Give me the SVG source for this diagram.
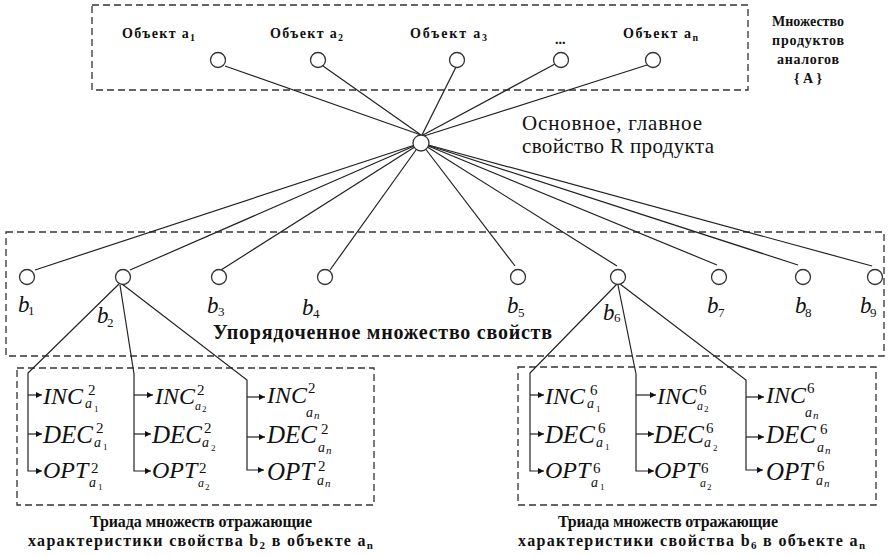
<svg xmlns="http://www.w3.org/2000/svg" width="888" height="557" viewBox="0 0 888 557">
<defs>
<marker id="arr" viewBox="0 0 10 10" refX="10" refY="5" markerWidth="7" markerHeight="6" orient="auto" markerUnits="userSpaceOnUse"><path d="M0,0 L10,5 L0,10 z" fill="#111"/></marker>
</defs>
<style>
.box{fill:none;stroke:#333;stroke-width:1.3;stroke-dasharray:7 4}
.node{fill:#fff;stroke:#333;stroke-width:1.3}
.edge{fill:none;stroke:#222;stroke-width:1.2}
.arr{fill:none;stroke:#222;stroke-width:1.2;marker-end:url(#arr)}
text{font-family:"Liberation Serif","Times New Roman",serif;fill:#111}
.lbl{font-weight:bold;font-size:14px}
.big{font-size:21px}
.bold{font-weight:bold}
.bl{font-style:italic;font-size:23px}
.bs{font-style:normal;font-size:13px}
.m{font-style:italic;font-size:24px}
.sup{font-style:normal;font-size:15px}
.sub{font-size:14px}
.sub2{font-size:12px}
.ss{font-style:normal;font-size:9px}
.ssn{font-style:italic;font-size:11px}
</style>

<g id="boxes">
<rect class="box" x="92" y="5" width="656" height="85"/>
<rect class="box" x="6" y="232" width="878" height="124"/>
<rect class="box" x="17" y="368" width="357" height="137"/>
<rect class="box" x="518" y="367" width="358" height="138"/>
</g>

<g id="connectors">
<path class="edge" d="M225,66 L421,135"/>
<path class="edge" d="M323,66 L421,135"/>
<path class="edge" d="M456,67 L422,135"/>
<path class="edge" d="M555,64 L423,135"/>
<path class="edge" d="M647,65 L424,136"/>
<path class="edge" d="M421,143 L35,270"/>
<path class="edge" d="M421,143 L130,270"/>
<path class="edge" d="M421,143 L221,270"/>
<path class="edge" d="M421,143 L330,270"/>
<path class="edge" d="M421,143 L515,266"/>
<path class="edge" d="M421,143 L617,266"/>
<path class="edge" d="M421,143 L717,265"/>
<path class="edge" d="M421,143 L798,265"/>
<path class="edge" d="M421,143 L872,266"/>
<path class="arr" d="M119,284 L28,373 V471 H42"/>
<path class="arr" d="M28,395 H42"/>
<path class="arr" d="M28,434 H42"/>
<path class="arr" d="M120,285 L134,374 V471 H151"/>
<path class="arr" d="M134,395 H153"/>
<path class="arr" d="M134,434 H151"/>
<path class="arr" d="M122,284 L247,380 V470 H264"/>
<path class="arr" d="M247,397 H265"/>
<path class="arr" d="M247,437 H265"/>
<path class="arr" d="M617,284 L530,373 V471 H544"/>
<path class="arr" d="M530,395 H544"/>
<path class="arr" d="M530,434 H544"/>
<path class="arr" d="M618,285 L636,374 V471 H654"/>
<path class="arr" d="M636,395 H656"/>
<path class="arr" d="M636,434 H654"/>
<path class="arr" d="M620,284 L746,380 V470 H763"/>
<path class="arr" d="M746,397 H764"/>
<path class="arr" d="M746,437 H764"/>
</g>

<g id="obj-a1"><circle class="node" cx="218" cy="60" r="7.5"/><text class="lbl" x="122" y="38" textLength="73">Объект a<tspan dy="3" font-size="10">1</tspan></text></g>
<g id="obj-a2"><circle class="node" cx="318" cy="60" r="7.5"/><text class="lbl" x="270" y="38" textLength="73">Объект a<tspan dy="3" font-size="10">2</tspan></text></g>
<g id="obj-a3"><circle class="node" cx="457" cy="60" r="7.5"/><text class="lbl" x="410" y="38" textLength="77">Объект a<tspan dy="3" font-size="10">3</tspan></text></g>
<g id="obj-dots"><circle class="node" cx="561" cy="60" r="7.5"/><text class="lbl" x="555" y="44">...</text></g>
<g id="obj-an"><circle class="node" cx="653" cy="60" r="7.5"/><text class="lbl" x="623" y="38" textLength="75">Объект a<tspan dy="3" font-size="10">n</tspan></text></g>

<g id="set-A-label">
<text class="lbl" font-size="16" text-anchor="middle" x="808" y="26" textLength="72">Множество</text>
<text class="lbl" font-size="16" text-anchor="middle" x="808" y="45" textLength="72">продуктов</text>
<text class="lbl" font-size="16" text-anchor="middle" x="808" y="64" textLength="62">аналогов</text>
<text class="lbl" font-size="16" text-anchor="middle" x="808" y="83" textLength="28">{A}</text>
</g>

<g id="node-R"><circle class="node" cx="421" cy="143" r="8"/>
<text class="big" x="522" y="130" textLength="180">Основное, главное</text>
<text class="big" x="522" y="153" textLength="192">свойство R продукта</text>
</g>

<g id="node-b1"><circle class="node" cx="27" cy="277" r="7.5"/><text class="bl"><tspan x="18" y="312">b</tspan><tspan class="bs" x="28" y="315">1</tspan></text></g>
<g id="node-b2"><circle class="node" cx="123" cy="277" r="7.5"/><text class="bl"><tspan x="97" y="323">b</tspan><tspan class="bs" x="107" y="327">2</tspan></text></g>
<g id="node-b3"><circle class="node" cx="219" cy="277" r="7.5"/><text class="bl"><tspan x="207" y="313">b</tspan><tspan class="bs" x="218" y="316">3</tspan></text></g>
<g id="node-b4"><circle class="node" cx="325" cy="277" r="7.5"/><text class="bl"><tspan x="302" y="315">b</tspan><tspan class="bs" x="313" y="318">4</tspan></text></g>
<g id="node-b5"><circle class="node" cx="518" cy="277" r="7.5"/><text class="bl"><tspan x="507" y="313">b</tspan><tspan class="bs" x="518" y="317">5</tspan></text></g>
<g id="node-b6"><circle class="node" cx="618" cy="277" r="7.5"/><text class="bl"><tspan x="603" y="320">b</tspan><tspan class="bs" x="614" y="322">6</tspan></text></g>
<g id="node-b7"><circle class="node" cx="719" cy="277" r="7.5"/><text class="bl"><tspan x="707" y="313">b</tspan><tspan class="bs" x="718" y="317">7</tspan></text></g>
<g id="node-b8"><circle class="node" cx="803" cy="277" r="7.5"/><text class="bl"><tspan x="795" y="313">b</tspan><tspan class="bs" x="805" y="317">8</tspan></text></g>
<g id="node-b9"><circle class="node" cx="875" cy="277" r="7.5"/><text class="bl"><tspan x="860" y="313">b</tspan><tspan class="bs" x="870" y="317">9</tspan></text></g>

<g id="ordered-label"><text class="bold" font-size="20" x="213" y="339" textLength="339">Упорядоченное множество свойств</text></g>

<g id="triad-b2">
<text class="m"><tspan x="43" y="404">INC</tspan><tspan class="sup" x="88" y="395">2</tspan><tspan class="sub" x="85" y="408">a</tspan><tspan class="ss" x="94" y="412">1</tspan></text>
<text class="m"><tspan x="43" y="443" font-size="25">DEC</tspan><tspan class="sup" x="96" y="433">2</tspan><tspan class="sub" x="94" y="447">a</tspan><tspan class="ss" x="103" y="450">1</tspan></text>
<text class="m"><tspan x="43" y="478">OPT</tspan><tspan class="sup" x="91" y="473">2</tspan><tspan class="sub" x="89" y="487">a</tspan><tspan class="ss" x="98" y="490">1</tspan></text>
<text class="m"><tspan x="155" y="404">INC</tspan><tspan class="sup" x="197" y="395">2</tspan><tspan class="sub2" x="195" y="410">a</tspan><tspan class="ss" x="202" y="412">2</tspan></text>
<text class="m"><tspan x="152" y="443" font-size="25">DEC</tspan><tspan class="sup" x="204" y="433">2</tspan><tspan class="sub" x="202" y="447">a</tspan><tspan class="ss" x="211" y="451">2</tspan></text>
<text class="m"><tspan x="152" y="478">OPT</tspan><tspan class="sup" x="199" y="473">2</tspan><tspan class="sub2" x="198" y="487">a</tspan><tspan class="ss" x="205" y="490">2</tspan></text>
<text class="m"><tspan x="267" y="403">INC</tspan><tspan class="sup" x="308" y="393">2</tspan><tspan class="sub" x="306" y="417">a</tspan><tspan class="ssn" x="314" y="419">n</tspan></text>
<text class="m"><tspan x="267" y="443" font-size="25">DEC</tspan><tspan class="sup" x="321" y="434">2</tspan><tspan class="sub" x="318" y="452">a</tspan><tspan class="ssn" x="326" y="454">n</tspan></text>
<text class="m"><tspan x="267" y="480" font-size="25">OPT</tspan><tspan class="sup" x="318" y="471">2</tspan><tspan class="sub" x="317" y="485">a</tspan><tspan class="ssn" x="325" y="487">n</tspan></text>
</g>

<g id="triad-b6">
<text class="m"><tspan x="545" y="404">INC</tspan><tspan class="sup" x="590" y="395">6</tspan><tspan class="sub" x="587" y="408">a</tspan><tspan class="ss" x="596" y="412">1</tspan></text>
<text class="m"><tspan x="545" y="443" font-size="25">DEC</tspan><tspan class="sup" x="598" y="433">6</tspan><tspan class="sub" x="596" y="447">a</tspan><tspan class="ss" x="605" y="450">1</tspan></text>
<text class="m"><tspan x="545" y="478">OPT</tspan><tspan class="sup" x="593" y="473">6</tspan><tspan class="sub" x="591" y="487">a</tspan><tspan class="ss" x="600" y="490">1</tspan></text>
<text class="m"><tspan x="657" y="404">INC</tspan><tspan class="sup" x="699" y="395">6</tspan><tspan class="sub2" x="697" y="410">a</tspan><tspan class="ss" x="704" y="412">2</tspan></text>
<text class="m"><tspan x="654" y="443" font-size="25">DEC</tspan><tspan class="sup" x="706" y="433">6</tspan><tspan class="sub" x="704" y="447">a</tspan><tspan class="ss" x="713" y="451">2</tspan></text>
<text class="m"><tspan x="654" y="478">OPT</tspan><tspan class="sup" x="701" y="473">6</tspan><tspan class="sub2" x="700" y="487">a</tspan><tspan class="ss" x="707" y="490">2</tspan></text>
<text class="m"><tspan x="766" y="403">INC</tspan><tspan class="sup" x="807" y="393">6</tspan><tspan class="sub" x="805" y="417">a</tspan><tspan class="ssn" x="813" y="419">n</tspan></text>
<text class="m"><tspan x="766" y="443" font-size="25">DEC</tspan><tspan class="sup" x="820" y="434">6</tspan><tspan class="sub" x="817" y="452">a</tspan><tspan class="ssn" x="825" y="454">n</tspan></text>
<text class="m"><tspan x="766" y="480" font-size="25">OPT</tspan><tspan class="sup" x="817" y="471">6</tspan><tspan class="sub" x="816" y="485">a</tspan><tspan class="ssn" x="824" y="487">n</tspan></text>
</g>

<g id="caption-b2">
<text class="bold" font-size="16" text-anchor="middle" x="201" y="527" textLength="222">Триада множеств отражающие</text>
<text class="bold" font-size="16" x="28" y="546" textLength="345">характеристики свойства b<tspan font-size="11" dy="3">2</tspan><tspan dy="-3"> в объекте a</tspan><tspan font-size="11" dy="3">n</tspan></text>
</g>
<g id="caption-b6">
<text class="bold" font-size="16" text-anchor="middle" x="668" y="527" textLength="220">Триада множеств отражающие</text>
<text class="bold" font-size="16" x="518" y="546" textLength="347">характеристики свойства b<tspan font-size="11" dy="3">6</tspan><tspan dy="-3"> в объекте a</tspan><tspan font-size="11" dy="3">n</tspan></text>
</g>
</svg>
